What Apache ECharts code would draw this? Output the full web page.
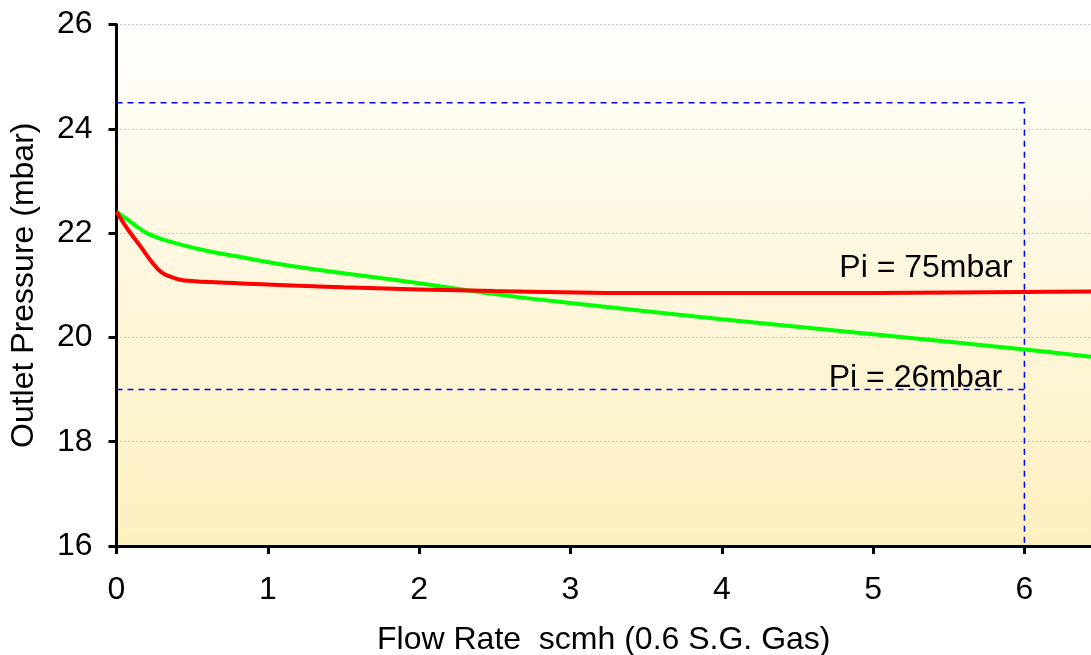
<!DOCTYPE html>
<html>
<head>
<meta charset="utf-8">
<script src="https://cdn.jsdelivr.net/npm/echarts@6/dist/echarts.min.js"></script>
<style>
  html, body { margin: 0; padding: 0; background: #fff; }
  #chart { width: 1091px; height: 655px; }
</style>
</head>
<body>
<div id="chart"></div>
<script>
// Pi = 75mbar curve (red)
var red75 = [
  [0, 22.41], [0.08, 22.05], [0.16, 21.74], [0.24, 21.42], [0.3, 21.24],
  [0.37, 21.15], [0.45, 21.09], [0.8, 21.04], [1.5, 20.96], [2.5, 20.89],
  [3.5, 20.85], [4.5, 20.85], [5.5, 20.86], [6, 20.87], [6.44, 20.88]
];
// Pi = 26mbar curve (green)
var green26 = [
  [0, 22.41], [0.1, 22.2], [0.2, 22.0], [0.35, 21.84], [0.55, 21.69],
  [0.8, 21.55], [1.2, 21.35], [2, 21.04], [2.5, 20.83], [3, 20.66],
  [4, 20.35], [5, 20.06], [6, 19.77], [6.44, 19.63]
];
// dashed limit lines
var upperLimit = [[0, 24.5], [6, 24.5], [6, 16]];
var lowerLimit = [[0, 19], [6, 19]];
// curve labels
var curveLabels = [
  { name: 'Pi = 75mbar', value: [5.35, 21.33] },
  { name: 'Pi = 26mbar', value: [5.28, 19.22] }
];
var xTicks = [0, 1, 2, 3, 4, 5, 6];
var yTicks = [16, 18, 20, 22, 24, 26];

var chart = echarts.init(document.getElementById('chart'));
var fontFam = '"Liberation Sans", Arial, sans-serif';
var fs = 32;

chart.setOption({
  animation: false,
  grid: {
    left: 116.5, top: 24.5, right: 0, bottom: 109,
    outerBoundsMode: 'none',
    containLabel: false,
    show: true,
    borderWidth: 0,
    backgroundColor: new echarts.graphic.LinearGradient(0, 0, 0, 1, [
      { offset: 0, color: '#fffefb' },
      { offset: 1, color: '#fdf0bf' }
    ])
  },
  xAxis: {
    type: 'value',
    min: 0, max: 6.44, interval: 1,
    name: 'Flow Rate  scmh (0.6 S.G. Gas)',
    nameLocation: 'middle',
    nameGap: 78,
    nameTextStyle: { fontSize: fs, color: '#000', fontFamily: fontFam },
    axisLine: { show: true, lineStyle: { color: '#000', width: 3 } },
    axisTick: { show: true, length: 8, lineStyle: { color: '#000', width: 3 },
      customValues: xTicks },
    axisLabel: { fontSize: fs, color: '#000', margin: 28, fontFamily: fontFam,
      customValues: xTicks },
    splitLine: { show: false }
  },
  yAxis: {
    type: 'value',
    min: 16, max: 26, interval: 2,
    name: 'Outlet Pressure (mbar)',
    nameLocation: 'middle',
    nameGap: 76,
    nameTextStyle: { fontSize: fs, color: '#000', fontFamily: fontFam },
    axisLine: { show: true, lineStyle: { color: '#000', width: 3 } },
    axisTick: { show: true, length: 8, lineStyle: { color: '#000', width: 3 } },
    axisLabel: { fontSize: fs, color: '#000', margin: 24, fontFamily: fontFam,
      formatter: function (v) { return yTicks.indexOf(v) >= 0 ? String(v) : ''; } },
    splitLine: { show: true, lineStyle: { color: '#999', width: 1, type: [1, 3] } }
  },
  series: [
    {
      type: 'line', data: upperLimit, symbol: 'none', silent: true,
      lineStyle: { color: '#0000ff', width: 1.5, type: [6, 5] }, z: 1
    },
    {
      type: 'line', data: lowerLimit, symbol: 'none', silent: true,
      lineStyle: { color: '#0000ff', width: 1.5, type: [6, 5] }, z: 1
    },
    {
      type: 'line', data: green26, symbol: 'none', smooth: 0.4,
      lineStyle: { color: '#00ff00', width: 4 }, z: 3
    },
    {
      type: 'line', data: red75, symbol: 'none', smooth: 0.4,
      lineStyle: { color: '#ff0000', width: 4 }, z: 4
    },
    {
      type: 'scatter', data: curveLabels, symbolSize: 1, silent: true,
      itemStyle: { opacity: 0 },
      label: {
        show: true, position: 'inside', formatter: '{b}', opacity: 1,
        fontSize: fs, color: '#000', fontFamily: fontFam, textBorderWidth: 0
      }, z: 5
    }
  ]
});
</script>
</body>
</html>
